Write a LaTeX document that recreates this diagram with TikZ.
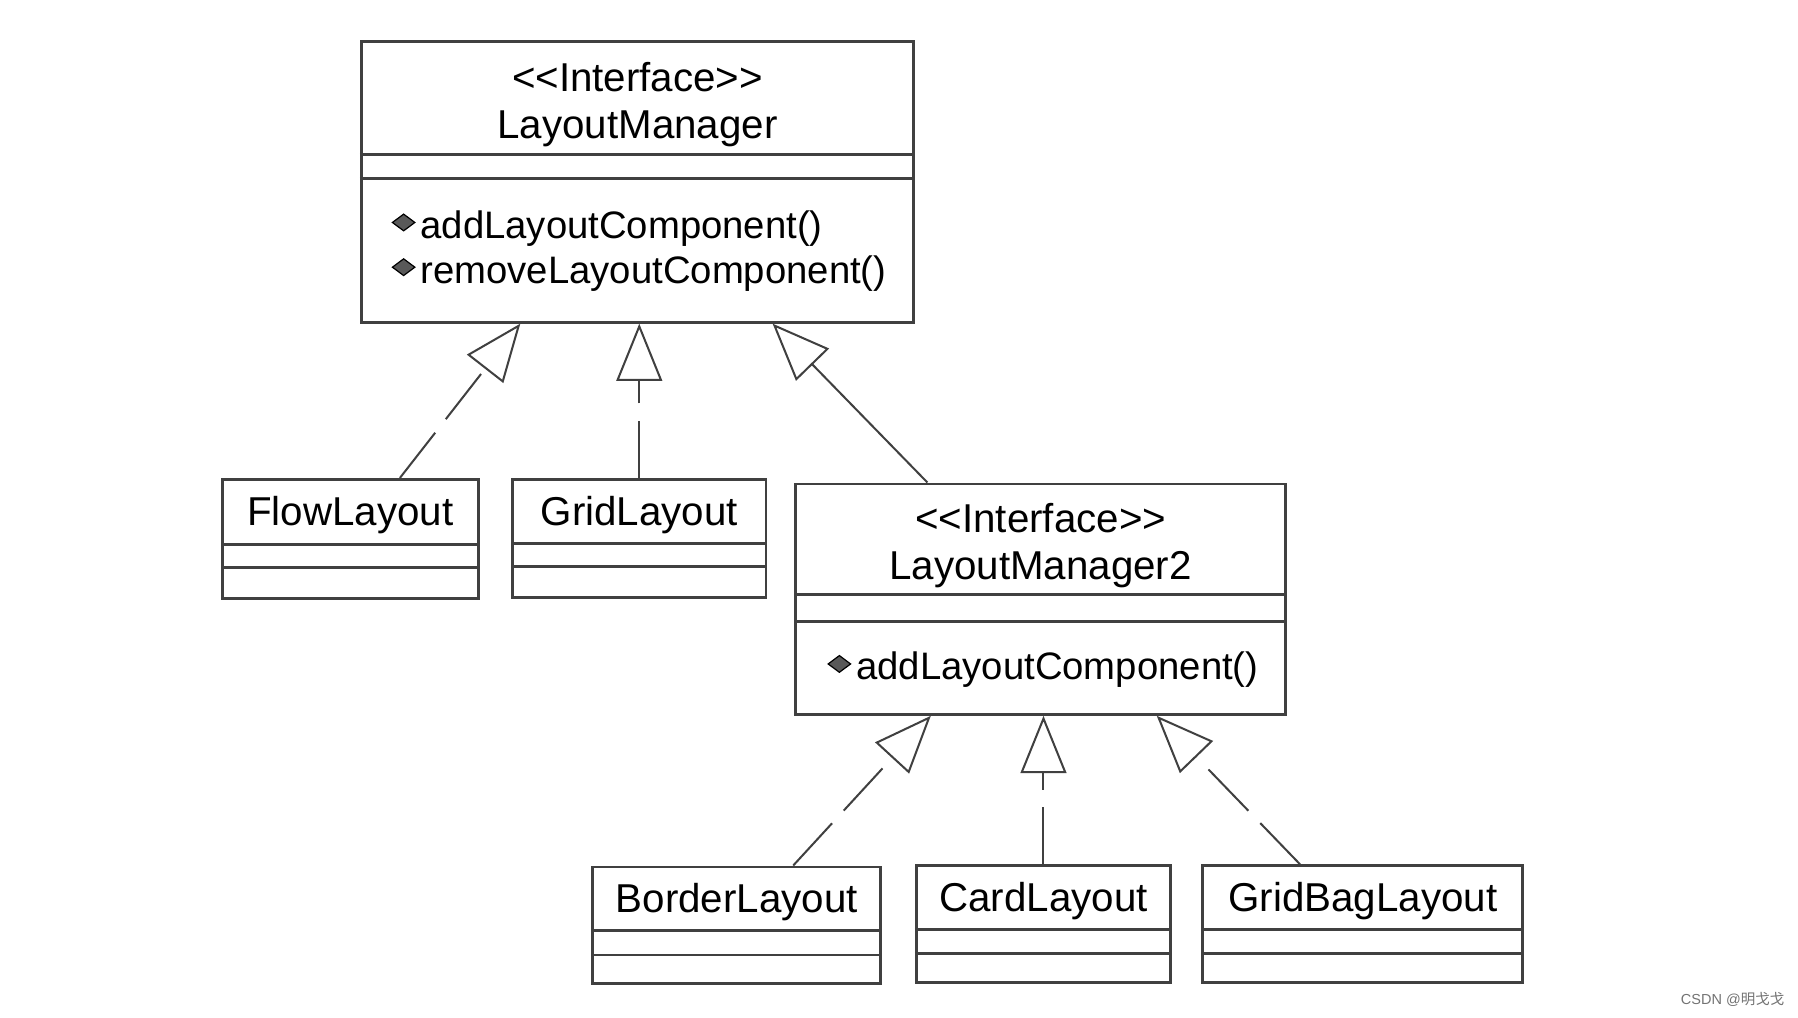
\documentclass[tikz,border=0pt]{standalone}
\usepackage{fontspec}
\setmainfont{Liberation Sans}
\newfontfamily\cjkfont{Noto Sans CJK SC}
\usetikzlibrary{arrows.meta,calc,shapes.geometric}

\begin{document}
\begin{tikzpicture}[x=0.1mm,y=-0.1mm,
  box/.style={draw=black!75,line width=0.7pt,inner sep=0pt},
  sep/.style={draw=black!75,line width=0.7pt},
  title/.style={font=\fontsize{10}{11.7}\selectfont,align=center,inner sep=0pt},
  meth/.style={font=\fontsize{9.5}{11.1}\selectfont,align=left,anchor=west,inner sep=0pt},
  icon/.style={diamond,fill=black!65,draw=black,line width=0.3pt,inner sep=0pt,minimum width=2mm,minimum height=1.5mm},
  realize/.style={draw=black!75,line width=0.5pt,dash pattern=on 5mm off 1.5mm,
    -{Triangle[length=5mm,width=4mm,fill=white]}},
  extend/.style={draw=black!75,line width=0.5pt,-{Triangle[length=5mm,width=4mm,fill=white]}}]
\useasboundingbox (0,0) rectangle (1568,887);

% interface LayoutManager
\node[box,minimum width=48.2mm,minimum height=24.5mm] (lm) at (556,158.5) {};
\draw[sep] ($(lm.north west)+(0,100)$) -- ($(lm.north east)+(0,100)$);
\draw[sep] ($(lm.north west)+(0,121)$) -- ($(lm.north east)+(0,121)$);
\node[title] (lm-t) at (556,91) {<{}<Interface>{}>\\LayoutManager};
\node[icon] (lm-i1) at (352,194) {};
\node[icon] (lm-i2) at (352,233) {};
\node[meth] (lm-m) at (366,219) {addLayoutComponent()\\removeLayoutComponent()};

% implementing classes
\node[box,minimum width=22.3mm,minimum height=10.4mm] (flow) at (305.5,470) {};
\draw[sep] ($(flow.north west)+(0,58)$) -- ($(flow.north east)+(0,58)$);
\draw[sep] ($(flow.north west)+(0,78)$) -- ($(flow.north east)+(0,78)$);
\node[title] (flow-t) at ($(flow.north)+(0,32)$) {FlowLayout};

\node[box,minimum width=22.1mm,minimum height=10.3mm] (grid) at (557.5,469.5) {};
\draw[sep] ($(grid.north west)+(0,57)$) -- ($(grid.north east)+(0,57)$);
\draw[sep] ($(grid.north west)+(0,77)$) -- ($(grid.north east)+(0,77)$);
\node[title] (grid-t) at ($(grid.north)+(0,32)$) {GridLayout};

% interface LayoutManager2
\node[box,minimum width=42.7mm,minimum height=20.1mm] (lm2) at (907.5,522.5) {};
\draw[sep] ($(lm2.north west)+(0,98)$) -- ($(lm2.north east)+(0,98)$);
\draw[sep] ($(lm2.north west)+(0,121)$) -- ($(lm2.north east)+(0,121)$);
\node[title] (lm2-t) at (907.5,475.5) {<{}<Interface>{}>\\LayoutManager2};
\node[icon] (lm2-i1) at (732,579) {};
\node[meth] (lm2-m) at (746,584) {addLayoutComponent()};

% classes under LayoutManager2
\node[box,minimum width=25.1mm,minimum height=10.2mm] (border) at (642.5,807) {};
\draw[sep] ($(border.north west)+(0,57)$) -- ($(border.north east)+(0,57)$);
\draw[sep] ($(border.north west)+(0,78)$) -- ($(border.north east)+(0,78)$);
\node[title] (border-t) at ($(border.north)+(0,32)$) {BorderLayout};

\node[box,minimum width=22.2mm,minimum height=10.2mm] (card) at (910,806) {};
\draw[sep] ($(card.north west)+(0,57)$) -- ($(card.north east)+(0,57)$);
\draw[sep] ($(card.north west)+(0,78)$) -- ($(card.north east)+(0,78)$);
\node[title] (card-t) at ($(card.north)+(0,32)$) {CardLayout};

\node[box,minimum width=27.9mm,minimum height=10.2mm] (gridbag) at (1188.5,806) {};
\draw[sep] ($(gridbag.north west)+(0,57)$) -- ($(gridbag.north east)+(0,57)$);
\draw[sep] ($(gridbag.north west)+(0,78)$) -- ($(gridbag.north east)+(0,78)$);
\node[title] (gridbag-t) at ($(gridbag.north)+(0,32)$) {GridBagLayout};

% realization / generalization
\draw[realize] ($(flow.north west)+(156,0)$) -- ($(lm.south west)+(140,0)$);
\draw[realize] (grid.north) -- (grid.north |- lm.south);
\draw[extend] ($(lm2.north west)+(116,0)$) -- ($(lm.south west)+(360,0)$);
\draw[realize] ($(border.north west)+(176,0)$) -- ($(lm2.south west)+(119,0)$);
\draw[realize] (card.north) -- (card.north |- lm2.south);
\draw[realize] ($(gridbag.north west)+(86,0)$) -- ($(lm2.south west)+(316,0)$);

\node[text=black!55,font=\fontsize{3.6}{4}\selectfont,inner sep=0pt] (mark) at (1511,872) {CSDN @{\cjkfont 明戈戈}};
\end{tikzpicture}
\end{document}
